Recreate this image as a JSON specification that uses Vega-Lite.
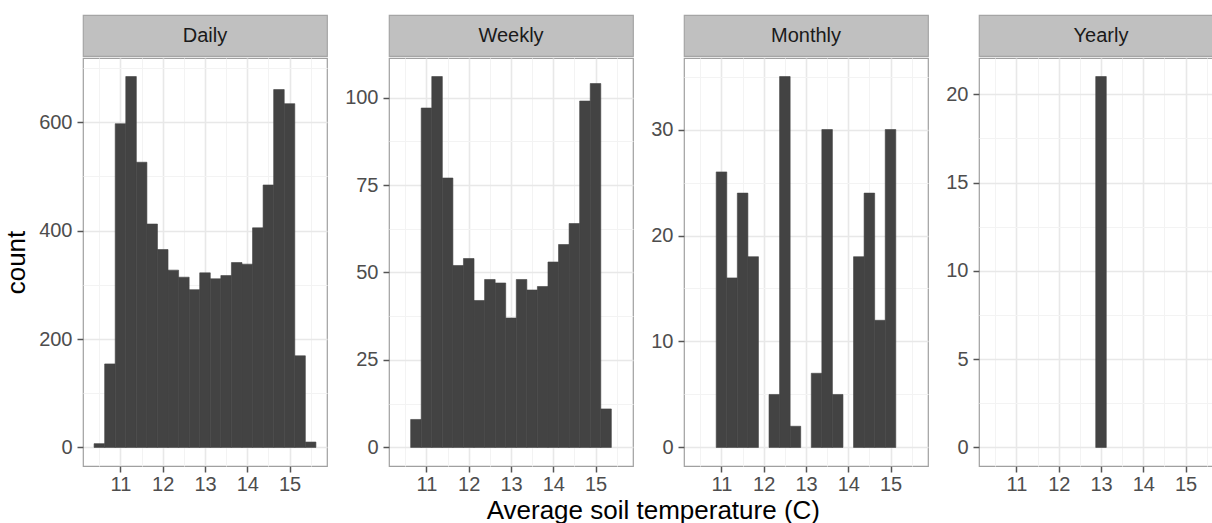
{
  "$schema": "https://vega.github.io/schema/vega-lite/v6.json",
  "usermeta": {"embedOptions": {"actions": false}},
  "background": "white",
  "padding": {"left": 3, "top": 14, "right": 0, "bottom": 0},
  "title": {"text": "Average soil temperature (C)", "orient": "bottom", "anchor": "middle", "fontSize": 26, "font": "Liberation Sans", "fontWeight": "normal", "color": "#000000", "offset": 3, "dx": 44},
  "datasets": {
    "hist": [
      {"p": "Daily", "lo": 10.375, "hi": 10.625, "n": 7},
      {"p": "Daily", "lo": 10.625, "hi": 10.875, "n": 154},
      {"p": "Daily", "lo": 10.875, "hi": 11.125, "n": 597},
      {"p": "Daily", "lo": 11.125, "hi": 11.375, "n": 684},
      {"p": "Daily", "lo": 11.375, "hi": 11.625, "n": 526},
      {"p": "Daily", "lo": 11.625, "hi": 11.875, "n": 412},
      {"p": "Daily", "lo": 11.875, "hi": 12.125, "n": 365},
      {"p": "Daily", "lo": 12.125, "hi": 12.375, "n": 327},
      {"p": "Daily", "lo": 12.375, "hi": 12.625, "n": 314},
      {"p": "Daily", "lo": 12.625, "hi": 12.875, "n": 291},
      {"p": "Daily", "lo": 12.875, "hi": 13.125, "n": 322},
      {"p": "Daily", "lo": 13.125, "hi": 13.375, "n": 311},
      {"p": "Daily", "lo": 13.375, "hi": 13.625, "n": 317},
      {"p": "Daily", "lo": 13.625, "hi": 13.875, "n": 341},
      {"p": "Daily", "lo": 13.875, "hi": 14.125, "n": 338},
      {"p": "Daily", "lo": 14.125, "hi": 14.375, "n": 405},
      {"p": "Daily", "lo": 14.375, "hi": 14.625, "n": 484},
      {"p": "Daily", "lo": 14.625, "hi": 14.875, "n": 660},
      {"p": "Daily", "lo": 14.875, "hi": 15.125, "n": 634},
      {"p": "Daily", "lo": 15.125, "hi": 15.375, "n": 169},
      {"p": "Daily", "lo": 15.375, "hi": 15.625, "n": 10},
      {"p": "Weekly", "lo": 10.625, "hi": 10.875, "n": 8},
      {"p": "Weekly", "lo": 10.875, "hi": 11.125, "n": 97},
      {"p": "Weekly", "lo": 11.125, "hi": 11.375, "n": 106},
      {"p": "Weekly", "lo": 11.375, "hi": 11.625, "n": 77},
      {"p": "Weekly", "lo": 11.625, "hi": 11.875, "n": 52},
      {"p": "Weekly", "lo": 11.875, "hi": 12.125, "n": 54},
      {"p": "Weekly", "lo": 12.125, "hi": 12.375, "n": 42},
      {"p": "Weekly", "lo": 12.375, "hi": 12.625, "n": 48},
      {"p": "Weekly", "lo": 12.625, "hi": 12.875, "n": 47},
      {"p": "Weekly", "lo": 12.875, "hi": 13.125, "n": 37},
      {"p": "Weekly", "lo": 13.125, "hi": 13.375, "n": 48},
      {"p": "Weekly", "lo": 13.375, "hi": 13.625, "n": 45},
      {"p": "Weekly", "lo": 13.625, "hi": 13.875, "n": 46},
      {"p": "Weekly", "lo": 13.875, "hi": 14.125, "n": 53},
      {"p": "Weekly", "lo": 14.125, "hi": 14.375, "n": 58},
      {"p": "Weekly", "lo": 14.375, "hi": 14.625, "n": 64},
      {"p": "Weekly", "lo": 14.625, "hi": 14.875, "n": 99},
      {"p": "Weekly", "lo": 14.875, "hi": 15.125, "n": 104},
      {"p": "Weekly", "lo": 15.125, "hi": 15.375, "n": 11},
      {"p": "Monthly", "lo": 10.875, "hi": 11.125, "n": 26},
      {"p": "Monthly", "lo": 11.125, "hi": 11.375, "n": 16},
      {"p": "Monthly", "lo": 11.375, "hi": 11.625, "n": 24},
      {"p": "Monthly", "lo": 11.625, "hi": 11.875, "n": 18},
      {"p": "Monthly", "lo": 12.125, "hi": 12.375, "n": 5},
      {"p": "Monthly", "lo": 12.375, "hi": 12.625, "n": 35},
      {"p": "Monthly", "lo": 12.625, "hi": 12.875, "n": 2},
      {"p": "Monthly", "lo": 13.125, "hi": 13.375, "n": 7},
      {"p": "Monthly", "lo": 13.375, "hi": 13.625, "n": 30},
      {"p": "Monthly", "lo": 13.625, "hi": 13.875, "n": 5},
      {"p": "Monthly", "lo": 14.125, "hi": 14.375, "n": 18},
      {"p": "Monthly", "lo": 14.375, "hi": 14.625, "n": 24},
      {"p": "Monthly", "lo": 14.625, "hi": 14.875, "n": 12},
      {"p": "Monthly", "lo": 14.875, "hi": 15.125, "n": 30},
      {"p": "Yearly", "lo": 12.875, "hi": 13.125, "n": 21}
    ]
  },
  "spacing": 16,
  "hconcat": [
    {
      "spacing": 0,
      "vconcat": [
        {
          "width": 244, "height": 41,
          "data": {"values": [{"label": "Daily"}]},
          "view": {"fill": "#C0C0C0", "stroke": "#A5A5A5", "strokeWidth": 1.2},
          "mark": {"type": "text", "fontSize": 20, "color": "#1A1A1A", "font": "Liberation Sans"},
          "encoding": {"text": {"field": "label"}}
        },
        {
          "width": 244, "height": 408,
          "data": {"name": "hist"},
          "transform": [{"filter": "datum.p === 'Daily'"}],
          "layer": [
            {
              "mark": {"type": "rect", "color": "#434343", "stroke": "#434343", "strokeWidth": 0.6},
              "encoding": {
                "x": {"field": "lo", "type": "quantitative", "scale": {"domain": [10.1125, 15.8875], "nice": false, "zero": false},
                  "axis": {"title": null, "values": [11, 12, 13, 14, 15], "format": "d"}},
                "x2": {"field": "hi"},
                "y": {"field": "n", "type": "quantitative", "scale": {"domain": [-34.2, 718.2], "nice": false, "zero": false},
                  "axis": {"title": "count", "titlePadding": 9, "values": [0, 200, 400, 600], "format": "d"}},
                "y2": {"datum": 0}
              }
            },
            {
              "mark": {"type": "rect", "opacity": 0},
              "encoding": {
                "x": {"field": "lo", "type": "quantitative", "scale": {"domain": [10.1125, 15.8875], "nice": false, "zero": false},
                  "axis": {"title": null, "values": [10.5, 11.5, 12.5, 13.5, 14.5, 15.5], "grid": true, "gridColor": "#F3F3F3", "gridWidth": 1, "ticks": false, "labels": false, "domain": false}},
                "x2": {"field": "hi"},
                "y": {"field": "n", "type": "quantitative", "scale": {"domain": [-34.2, 718.2], "nice": false, "zero": false},
                  "axis": {"title": null, "values": [100, 300, 500, 700], "grid": true, "gridColor": "#F3F3F3", "gridWidth": 1, "ticks": false, "labels": false, "domain": false}},
                "y2": {"datum": 0}
              }
            }
          ],
          "resolve": {"axis": {"x": "independent", "y": "independent"}}
        }
      ]
    },
    {
      "spacing": 0,
      "vconcat": [
        {
          "width": 244, "height": 41,
          "data": {"values": [{"label": "Weekly"}]},
          "view": {"fill": "#C0C0C0", "stroke": "#A5A5A5", "strokeWidth": 1.2},
          "mark": {"type": "text", "fontSize": 20, "color": "#1A1A1A", "font": "Liberation Sans"},
          "encoding": {"text": {"field": "label"}}
        },
        {
          "width": 244, "height": 408,
          "data": {"name": "hist"},
          "transform": [{"filter": "datum.p === 'Weekly'"}],
          "layer": [
            {
              "mark": {"type": "rect", "color": "#434343", "stroke": "#434343", "strokeWidth": 0.6},
              "encoding": {
                "x": {"field": "lo", "type": "quantitative", "scale": {"domain": [10.1125, 15.8875], "nice": false, "zero": false},
                  "axis": {"title": null, "values": [11, 12, 13, 14, 15], "format": "d"}},
                "x2": {"field": "hi"},
                "y": {"field": "n", "type": "quantitative", "scale": {"domain": [-5.3, 111.3], "nice": false, "zero": false},
                  "axis": {"title": null, "values": [0, 25, 50, 75, 100], "format": "d"}},
                "y2": {"datum": 0}
              }
            },
            {
              "mark": {"type": "rect", "opacity": 0},
              "encoding": {
                "x": {"field": "lo", "type": "quantitative", "scale": {"domain": [10.1125, 15.8875], "nice": false, "zero": false},
                  "axis": {"title": null, "values": [10.5, 11.5, 12.5, 13.5, 14.5, 15.5], "grid": true, "gridColor": "#F3F3F3", "gridWidth": 1, "ticks": false, "labels": false, "domain": false}},
                "x2": {"field": "hi"},
                "y": {"field": "n", "type": "quantitative", "scale": {"domain": [-5.3, 111.3], "nice": false, "zero": false},
                  "axis": {"title": null, "values": [12.5, 37.5, 62.5, 87.5], "grid": true, "gridColor": "#F3F3F3", "gridWidth": 1, "ticks": false, "labels": false, "domain": false}},
                "y2": {"datum": 0}
              }
            }
          ],
          "resolve": {"axis": {"x": "independent", "y": "independent"}}
        }
      ]
    },
    {
      "spacing": 0,
      "vconcat": [
        {
          "width": 244, "height": 41,
          "data": {"values": [{"label": "Monthly"}]},
          "view": {"fill": "#C0C0C0", "stroke": "#A5A5A5", "strokeWidth": 1.2},
          "mark": {"type": "text", "fontSize": 20, "color": "#1A1A1A", "font": "Liberation Sans"},
          "encoding": {"text": {"field": "label"}}
        },
        {
          "width": 244, "height": 408,
          "data": {"name": "hist"},
          "transform": [{"filter": "datum.p === 'Monthly'"}],
          "layer": [
            {
              "mark": {"type": "rect", "color": "#434343", "stroke": "#434343", "strokeWidth": 0.6},
              "encoding": {
                "x": {"field": "lo", "type": "quantitative", "scale": {"domain": [10.1125, 15.8875], "nice": false, "zero": false},
                  "axis": {"title": null, "values": [11, 12, 13, 14, 15], "format": "d"}},
                "x2": {"field": "hi"},
                "y": {"field": "n", "type": "quantitative", "scale": {"domain": [-1.75, 36.75], "nice": false, "zero": false},
                  "axis": {"title": null, "values": [0, 10, 20, 30], "format": "d"}},
                "y2": {"datum": 0}
              }
            },
            {
              "mark": {"type": "rect", "opacity": 0},
              "encoding": {
                "x": {"field": "lo", "type": "quantitative", "scale": {"domain": [10.1125, 15.8875], "nice": false, "zero": false},
                  "axis": {"title": null, "values": [10.5, 11.5, 12.5, 13.5, 14.5, 15.5], "grid": true, "gridColor": "#F3F3F3", "gridWidth": 1, "ticks": false, "labels": false, "domain": false}},
                "x2": {"field": "hi"},
                "y": {"field": "n", "type": "quantitative", "scale": {"domain": [-1.75, 36.75], "nice": false, "zero": false},
                  "axis": {"title": null, "values": [5, 15, 25, 35], "grid": true, "gridColor": "#F3F3F3", "gridWidth": 1, "ticks": false, "labels": false, "domain": false}},
                "y2": {"datum": 0}
              }
            }
          ],
          "resolve": {"axis": {"x": "independent", "y": "independent"}}
        }
      ]
    },
    {
      "spacing": 0,
      "vconcat": [
        {
          "width": 236, "height": 41,
          "data": {"values": [{"label": "Yearly"}]},
          "view": {"fill": "#C0C0C0", "stroke": "#A5A5A5", "strokeWidth": 1.2},
          "mark": {"type": "text", "fontSize": 20, "color": "#1A1A1A", "font": "Liberation Sans", "dx": 4},
          "encoding": {"text": {"field": "label"}}
        },
        {
          "width": 236, "height": 408,
          "data": {"name": "hist"},
          "transform": [{"filter": "datum.p === 'Yearly'"}],
          "layer": [
            {
              "mark": {"type": "rect", "color": "#434343", "stroke": "#434343", "strokeWidth": 0.6},
              "encoding": {
                "x": {"field": "lo", "type": "quantitative", "scale": {"domain": [10.1125, 15.698], "nice": false, "zero": false},
                  "axis": {"title": null, "values": [11, 12, 13, 14, 15], "format": "d"}},
                "x2": {"field": "hi"},
                "y": {"field": "n", "type": "quantitative", "scale": {"domain": [-1.05, 22.05], "nice": false, "zero": false},
                  "axis": {"title": null, "values": [0, 5, 10, 15, 20], "format": "d"}},
                "y2": {"datum": 0}
              }
            },
            {
              "mark": {"type": "rect", "opacity": 0},
              "encoding": {
                "x": {"field": "lo", "type": "quantitative", "scale": {"domain": [10.1125, 15.698], "nice": false, "zero": false},
                  "axis": {"title": null, "values": [10.5, 11.5, 12.5, 13.5, 14.5, 15.5], "grid": true, "gridColor": "#F3F3F3", "gridWidth": 1, "ticks": false, "labels": false, "domain": false}},
                "x2": {"field": "hi"},
                "y": {"field": "n", "type": "quantitative", "scale": {"domain": [-1.05, 22.05], "nice": false, "zero": false},
                  "axis": {"title": null, "values": [2.5, 7.5, 12.5, 17.5], "grid": true, "gridColor": "#F3F3F3", "gridWidth": 1, "ticks": false, "labels": false, "domain": false}},
                "y2": {"datum": 0}
              }
            }
          ],
          "resolve": {"axis": {"x": "independent", "y": "independent"}}
        }
      ]
    }
  ],
  "config": {
    "font": "Liberation Sans",
    "view": {"stroke": "#A0A0A0", "strokeWidth": 1.2},
    "axis": {
      "labelFont": "Liberation Sans", "labelFontSize": 20, "labelColor": "#4D4D4D",
      "tickColor": "#555555", "tickWidth": 1.5, "tickSize": 6, "labelPadding": 5,
      "domain": false, "grid": true, "gridColor": "#E8E8E8", "gridWidth": 1.6,
      "labelOverlap": false, "labelFlush": false,
      "titleFont": "Liberation Sans", "titleFontSize": 26, "titleFontWeight": "normal", "titleColor": "#000000"
    },
    "axisX": {"labelPadding": 2}
  }
}
